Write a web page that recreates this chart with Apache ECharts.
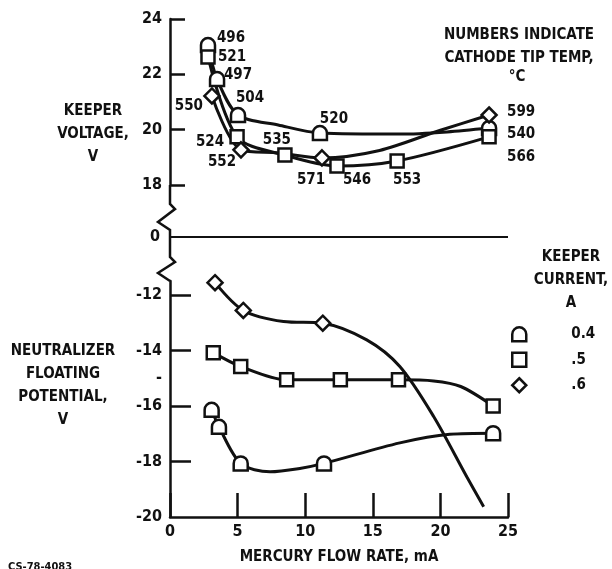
<!DOCTYPE html>
<html>
<head>
<meta charset="utf-8">
<script src="https://cdn.jsdelivr.net/npm/echarts@6/dist/echarts.min.js"></script>
<style>
  html, body { margin: 0; padding: 0; background: #fff; }
  #chart { width: 612px; height: 569px; }
</style>
</head>
<body>
<div id="chart"></div>
<script>
// axis ticks
var flowTicks = [0, 5, 10, 15, 20, 25];
var voltTicks = [18, 20, 22, 24];
var potTicks = [-20, -18, -16, -14, -12];
var potLabels = [-20, -18, -16, -15, -14, -12];
var currents = ['0.4', '.5', '.6'];

// keeper voltage, measured points [mA, V]
var kvMark04 = [[2.81, 23.06], [3.48, 21.83], [5.03, 20.53], [11.09, 19.88], [23.6, 20.06]];
var kvMark05 = [[2.81, 22.63], [4.96, 19.74], [8.5, 19.08], [12.35, 18.69], [16.8, 18.87], [23.6, 19.74]];
var kvMark06 = [[3.1, 21.22], [5.25, 19.27], [11.24, 18.98], [23.6, 20.53]];
// cathode tip temperature, deg C
var tipTemp04 = [496, 497, 504, 520, 540];
var tipTemp05 = [521, 524, 535, 546, 553, 566];
var tipTemp06 = [550, 552, 571, 599];
// faired curves
var kvCurve04 = [[2.81, 23.06], [3.48, 21.83], [5.03, 20.53], [8.0, 20.17], [11.09, 19.88], [17.0, 19.84], [20.5, 19.92], [23.6, 20.06]];
var kvCurve05 = [[2.81, 22.63], [4.96, 19.74], [8.5, 19.08], [12.35, 18.69], [16.8, 18.87], [23.6, 19.74]];
var kvCurve06 = [[3.1, 21.22], [5.25, 19.27], [8.0, 19.16], [11.24, 18.98], [15.5, 19.25], [20.0, 19.98], [23.6, 20.53]];

// neutralizer floating potential [mA, V]
var nfMark04 = [[3.08, -16.14], [3.62, -16.75], [5.23, -18.07], [11.39, -18.07], [23.9, -16.98]];
var nfMark05 = [[3.2, -14.08], [5.23, -14.58], [8.63, -15.06], [12.6, -15.06], [16.9, -15.06], [23.9, -16.0]];
var nfMark06 = [[3.33, -11.56], [5.42, -12.56], [11.3, -13.02]];
var nfCurve04 = [[3.08, -16.14], [3.62, -16.75], [5.23, -18.07], [7.4, -18.37], [9.6, -18.25], [11.39, -18.07], [17.0, -17.33], [20.7, -17.02], [23.9, -16.98]];
var nfCurve05 = [[3.2, -14.08], [5.23, -14.58], [8.63, -15.06], [12.6, -15.06], [16.9, -15.06], [19.5, -15.1], [21.5, -15.3], [23.9, -16.0]];
var nfCurve06 = [[3.33, -11.56], [5.42, -12.56], [8.4, -12.96], [11.3, -13.02], [14.55, -13.62], [17.0, -14.58], [19.5, -16.38], [21.95, -18.55], [23.2, -19.63]];

// label placement (px, from marker centre)
var tempOffset04 = [[23, -7], [21, -4], [12, -17], [14, -14], [32, 6]];
var tempOffset05 = [[24, 0], [-27, 5], [-8, -15], [20, 14], [10, 19], [32, 20]];
var tempOffset06 = [[-23, 10], [-19, 12], [-11, 22], [32, -3]];

var FONT = "'DejaVu Sans Condensed', 'DejaVu Sans', sans-serif";
var INK = '#111';
var DOME = 'path://M0,12 L0,6 A6,6 0 0 1 12,6 L12,12 Z';
var symbols = [DOME, 'rect', 'diamond'];
var symSizes = [14, 13, 15];

function curve(name, data, g) {
    return {
        name: name, type: 'line', data: data, xAxisIndex: g, yAxisIndex: g,
        smooth: 0.3, showSymbol: false, silent: true,
        lineStyle: { color: INK, width: 3 }, z: 2
    };
}

function marks(i, data, g, temps, offsets) {
    var s = {
        name: currents[i], type: 'scatter', data: data, xAxisIndex: g, yAxisIndex: g,
        symbol: symbols[i], symbolSize: symSizes[i], silent: true,
        itemStyle: { color: '#fff', borderColor: INK, borderWidth: 2.5, opacity: 1 }, z: 3
    };
    if (temps) {
        s.data = data.map(function (p, k) {
            return {
                value: p,
                label: {
                    show: true, position: 'inside', offset: offsets[k], formatter: String(temps[k]),
                    color: INK, textBorderWidth: 0, fontFamily: FONT, fontWeight: 'bold', fontSize: 15
                }
            };
        });
    }
    return s;
}

var tickFont = { color: INK, fontFamily: FONT, fontWeight: 'bold', fontSize: 16 };
var axisLine = { show: true, lineStyle: { color: INK, width: 2.5 } };
var textFont = 'bold 15px ' + FONT;

var chart = echarts.init(document.getElementById('chart'));
chart.setOption({
    animation: false,
    backgroundColor: '#fff',
    grid: [
        { left: 170, right: 104, top: 19, height: 166 },
        { left: 170, right: 104, top: 281, height: 236 },
        { left: 170, right: 104, top: 227, height: 20 }
    ],
    xAxis: [
        { gridIndex: 0, type: 'value', min: 0, max: 25, show: false },
        {
            gridIndex: 1, type: 'value', min: 0, max: 25, interval: 5,
            axisLine: axisLine,
            axisTick: { inside: true, length: 24, lineStyle: { color: INK, width: 2.5 } },
            axisLabel: Object.assign({ margin: 7 }, tickFont),
            splitLine: { show: false },
            name: 'MERCURY FLOW RATE, mA', nameLocation: 'middle', nameGap: 33,
            nameTextStyle: { color: INK, fontFamily: FONT, fontWeight: 'bold', fontSize: 15 }
        },
        { gridIndex: 2, type: 'value', min: 0, max: 25, show: false }
    ],
    yAxis: [
        {
            gridIndex: 0, type: 'value', min: 18, max: 24,
            axisLine: axisLine,
            axisTick: { inside: true, length: 15, customValues: voltTicks, lineStyle: { color: INK, width: 2.5 } },
            axisLabel: Object.assign({ margin: 8, customValues: voltTicks }, tickFont),
            splitLine: { show: false }
        },
        {
            gridIndex: 1, type: 'value', min: -20, max: -11.5,
            axisLine: axisLine,
            axisTick: { inside: true, length: 21, customValues: potTicks.slice(1), lineStyle: { color: INK, width: 2.5 } },
            axisLabel: Object.assign({
                margin: 8, customValues: potLabels,
                formatter: function (v) { return v === -15 ? '-' : String(v); }
            }, tickFont),
            splitLine: { show: false }
        },
        {
            gridIndex: 2, type: 'value', min: -1, max: 1,
            axisLine: { show: false }, axisTick: { show: false },
            axisLabel: Object.assign({ margin: 10, customValues: [0] }, tickFont),
            splitLine: { show: false }
        }
    ],
    legend: {
        data: currents, orient: 'vertical', left: 506, top: 321,
        itemWidth: 14, itemHeight: 14, itemGap: 9, selectedMode: false,
        itemStyle: { borderWidth: 2.5, borderColor: INK, color: '#fff', opacity: 1 },
        textStyle: { color: INK, fontFamily: FONT, fontWeight: 'bold', fontSize: 15, padding: [0, 0, 0, 40] }
    },
    graphic: [
        {
            type: 'polyline', silent: true,
            shape: { points: [[170, 185], [170, 204], [175, 209], [158, 222], [170, 230], [170, 257], [175, 262], [158, 273], [170, 281]] },
            style: { stroke: INK, lineWidth: 2.5, fill: null }
        },
        {
            type: 'text', silent: true,
            style: { text: 'KEEPER\nVOLTAGE,\nV', x: 93, y: 100, align: 'center', lineHeight: 23, fill: INK, font: textFont }
        },
        {
            type: 'text', silent: true,
            style: { text: 'NEUTRALIZER\nFLOATING\nPOTENTIAL,\nV', x: 63, y: 340, align: 'center', lineHeight: 23, fill: INK, font: textFont }
        },
        {
            type: 'text', silent: true,
            style: { text: 'NUMBERS INDICATE\nCATHODE TIP TEMP,', x: 519, y: 24, align: 'center', lineHeight: 23, fill: INK, font: textFont }
        },
        {
            type: 'text', silent: true,
            style: { text: '\u00B0C', x: 517, y: 70, align: 'center', fill: INK, font: textFont }
        },
        {
            type: 'text', silent: true,
            style: { text: 'KEEPER\nCURRENT,\nA', x: 571, y: 246, align: 'center', lineHeight: 23, fill: INK, font: textFont }
        },
        {
            type: 'text', silent: true,
            style: { text: 'CS-78-4083', x: 8, y: 562, fill: INK, font: 'bold 11px ' + FONT }
        }
    ],
    series: [
        curve('kv 0.4', kvCurve04, 0),
        curve('kv .5', kvCurve05, 0),
        curve('kv .6', kvCurve06, 0),
        marks(0, kvMark04, 0, tipTemp04, tempOffset04),
        marks(1, kvMark05, 0, tipTemp05, tempOffset05),
        marks(2, kvMark06, 0, tipTemp06, tempOffset06),
        curve('nf 0.4', nfCurve04, 1),
        curve('nf .5', nfCurve05, 1),
        curve('nf .6', nfCurve06, 1),
        marks(0, nfMark04, 1),
        marks(1, nfMark05, 1),
        marks(2, nfMark06, 1),
        {
            name: 'zero', type: 'line', xAxisIndex: 2, yAxisIndex: 2, data: [[0, 0], [25, 0]],
            showSymbol: false, silent: true, lineStyle: { color: INK, width: 2 }
        }
    ]
});
</script>
</body>
</html>
